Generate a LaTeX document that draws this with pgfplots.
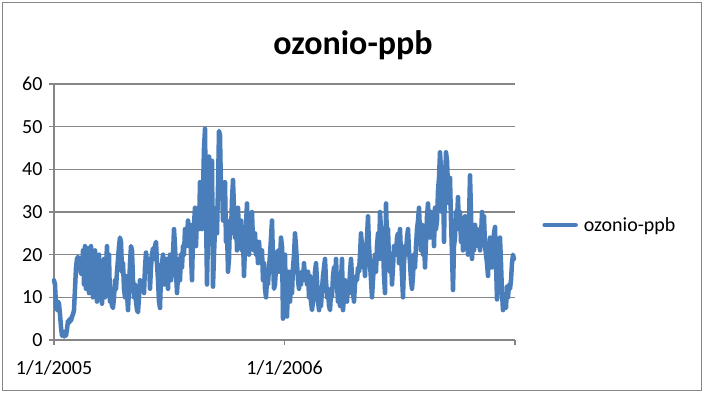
\documentclass[border=0pt]{standalone}
\usepackage{fontspec}
\setmainfont{Carlito}
\usepackage{pgfplots}
\pgfplotsset{compat=1.18}
\usepackage{pgfplotstable}
\definecolor{xlblue}{HTML}{4A7EBB}
\definecolor{xlgrid}{HTML}{868686}
\pgfplotstableread{
y
14
13
8
7
9
8.5
6
3
1
1.5
0.8
2
1
2.5
4.5
4
5
4.5
5.5
6
7
12
17
19
19.5
17
18
15.5
16
21
13
22
12
20
21.5
11
18
22
13
10
16
21
12
9
16
20
11
16
8.5
14
19
10
17
22
15
20
9
12
8
7.5
10
14
12
16
19
22
24
23
16
18
12
10
15
11
7
12
18
22
21
14
10
13
9
7
6.5
10
14
12
13.5
14
11
17
20.5
18
16
19
12
17
20
21.5
19
22
23
18
14
9
7.5
15
18
20
13
16
19
14
12
18
20
14
16
20
26
22
16
11
15
19
14
20
17
22
20
26
22
24
28
22
27
20
14
24
27
31
22
29
30
26
37
32
26
35
45
49.5
30
13
25
43
40
38
42
12.5
20
26
31
25
36
49
48
35
37
28
34
37
23
26
16
19
28
25
33
37.5
31
24
29
21
31
25
22
28
21
24
15
22
27
32
25
20
23
26
30
23
21
25
20
22
18
23
20
19
21
14
18
12
10
14
13
17
20
24
28
19
12
13
17
20
21
16
19
24
22
5
10
20
8
5.5
12
16
9
13
11
17
20
25
22
18
14
12
15
13
16
14
18
15
16
13
16
10
15
9
7
9
12
16
18
14
9
7
10
8
12
15
17
19
14
10
12
8
7
11
10
15
17
14
19
13
9
12
8
14
19
7
10
14
12
9
13
11
16
19
15
11
9
13
15
14
17
16
20
25
22
17
19
15
21
24
29
22
18
14
10
14
18
20
16
22
25
19
30
26
19
22
15
11
32
24
26
19
16
20
13
17
22
20
20
24
25
18
26
20
15
10
18
22
20
24
26
21
18
14
12
15
20
17
22
26
28
31
25
21
27
20
23
17
23
29
32
27
24
30
25
29
22
31
26
28
35
38
44
40
30
39
23
37
44
42
36
32
38
28
20
11.7
22
24
30
28
33.5
26
30
23
27
21
25
29
23
26
20
28
38.6
30
19
23
21
27
24
26
22
25
21
24
30
26
29
22
20
18
15
21
24
19
17
22
25
26.5
18
9.5
14
20
24
18
11
7
9
8
7.5
12.5
10
13
12
14
18
20
19
}\ozone
\begin{document}
\begin{tikzpicture}[x=1pt,y=1pt]
\useasboundingbox (0,0) rectangle (704,393);
\draw[xlgrid, line width=0.8pt] (2.5,2.5) rectangle (701.5,390.5);
\node[font=\fontsize{34}{34}\bfseries\selectfont] at (353,348) {ozonio-ppb};
\begin{axis}[at={(54pt,53pt)}, anchor=south west, scale only axis,
  width=461pt, height=256pt,
  xmin=0, xmax=461, ymin=0, ymax=60,
  ytick={0,10,...,60}, xtick={0,230.5,461},
  xticklabels={1/1/2005,1/1/2006,{}},
  axis x line*=bottom, axis y line*=left,
  ymajorgrids, grid style={xlgrid, line width=1.1pt},
  axis line style={xlgrid, line width=1.1pt},
  tick style={xlgrid, line width=1.1pt},
  tick align=outside, major tick length=5pt,
  tick label style={font=\fontsize{20}{20}\selectfont, text=black},
  /pgf/number format/assume math mode=true,
  yticklabel style={xshift=-3pt},
  xticklabel style={yshift=-12pt},
  legend style={at={(rel axis cs:1.059,0.449)}, anchor=west, draw=none, fill=none,
    inner sep=0pt, font=\fontsize{20}{20}\selectfont, cells={anchor=west},
    /tikz/every odd column/.append style={column sep=4pt}},
  legend image code/.code={\draw[#1, line width=4.5pt] (0pt,0pt) -- (31pt,0pt);},
  clip=false]
\addplot[xlblue, line width=4.5pt, line join=round, line cap=round] table[x expr=\coordindex, y=y] {\ozone};
\addlegendentry{ozonio-ppb}
\end{axis}
\end{tikzpicture}
\end{document}
